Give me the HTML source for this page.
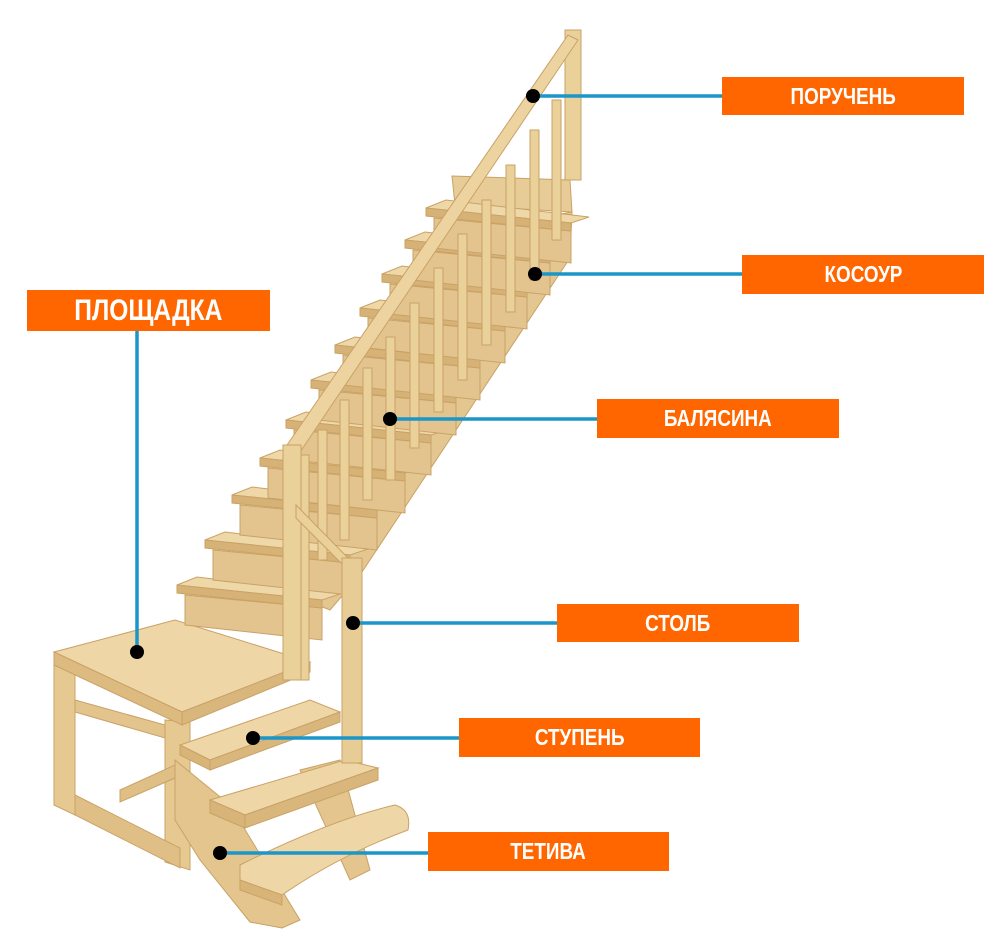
<!DOCTYPE html>
<html><head><meta charset="utf-8"><style>
html,body{margin:0;padding:0;background:#fff;width:994px;height:930px;overflow:hidden}
svg{position:absolute;left:0;top:0}
.lb{position:absolute;background:#ff6600;color:#fff;font-family:"Liberation Sans",sans-serif;font-weight:bold;font-size:23px;display:flex;align-items:center;justify-content:center}
.lb span{display:inline-block;transform:scaleX(0.82)}
</style></head><body>
<svg id="s" width="994" height="930" viewBox="0 0 994 930">
<g id="st" stroke="#c9a266" stroke-width="1" fill="#e9cf9c">
<polygon points="555,215 572,212 570,258 360,575 330,610 305,600 300,560" fill="#e4c690"/>
<polygon points="452,176 570,180 572,212 455,205" fill="#e8cc97"/>
<polygon points="54,662 75,662 75,815 54,805" fill="#e6c991"/>
<polygon points="165,720 190,722 190,870 165,862" fill="#e6c991"/>
<polygon points="75,795 180,848 180,868 75,815" fill="#dfbf86"/>
<polygon points="75,700 165,725 165,738 75,712" fill="#e2c48c"/>
<polygon points="120,790 175,765 175,778 120,802" fill="#dfbf86"/>
<polygon points="54,652 175,620 310,662 182,712" fill="#eed6a6"/>
<polygon points="54,652 182,712 182,725 54,665" fill="#ddbb80"/>
<polygon points="182,712 310,662 310,672 182,725" fill="#d9b67b"/>
<polygon points="175,760 230,805 300,920 282,928 250,922 200,860 175,820" fill="#e3c58d"/>
<polygon points="300,770 340,760 370,870 350,880" fill="#e3c58d"/>
<polygon points="180,745 310,700 340,712 210,760" fill="#eed6a6"/>
<polygon points="180,745 210,760 210,770 180,755" fill="#d8b479"/>
<polygon points="210,760 340,712 340,722 210,770" fill="#d9b67b"/>
<polygon points="210,800 345,760 378,768 245,815" fill="#eed6a6"/>
<polygon points="210,800 245,815 245,828 210,813" fill="#d8b479"/>
<polygon points="245,815 378,768 378,780 245,828" fill="#d9b67b"/>
<path d="M240,865 Q330,820 395,805 Q412,810 408,830 Q340,855 282,895 L240,880 Z" fill="#eed6a6"/>
<polygon points="240,880 282,895 282,905 240,890" fill="#d8b479"/>
</g>
<g id="treads" stroke="#c9a266" stroke-width="1"></g>
<g id="rail" stroke="#c9a266" stroke-width="1" fill="#ead099"></g>
<g stroke="#1b96c8" stroke-width="3.5" fill="none">
<line x1="533" y1="96" x2="722" y2="96"/>
<line x1="535" y1="274" x2="742" y2="274"/>
<line x1="390" y1="419" x2="597" y2="419"/>
<line x1="353" y1="623" x2="557" y2="623"/>
<line x1="253" y1="738" x2="459" y2="738"/>
<line x1="220" y1="853" x2="428" y2="853"/>
<line x1="137" y1="310" x2="137" y2="652"/>
</g>
<g fill="#000">
<circle cx="533" cy="96" r="7"/><circle cx="535" cy="274" r="7"/><circle cx="390" cy="419" r="7"/>
<circle cx="353" cy="623" r="7"/><circle cx="253" cy="738" r="7"/><circle cx="220" cy="853" r="7"/>
<circle cx="137" cy="652" r="7"/>
</g>
</svg>
<div class="lb" style="left:722px;top:77px;width:242px;height:38px"><span>ПОРУЧЕНЬ</span></div>
<div class="lb" style="left:742px;top:255px;width:242px;height:39px"><span>КОСОУР</span></div>
<div class="lb" style="left:597px;top:399px;width:242px;height:39px"><span>БАЛЯСИНА</span></div>
<div class="lb" style="left:557px;top:604px;width:242px;height:38px"><span>СТОЛБ</span></div>
<div class="lb" style="left:459px;top:718px;width:241px;height:39px"><span>СТУПЕНЬ</span></div>
<div class="lb" style="left:428px;top:832px;width:241px;height:39px"><span>ТЕТИВА</span></div>
<div class="lb" style="left:27px;top:290px;width:243px;height:41px;font-size:30px"><span>ПЛОЩАДКА</span></div>
<script>
var ns="http://www.w3.org/2000/svg";
function el(g,t,a){var e=document.createElementNS(ns,t);for(var k in a)e.setAttribute(k,a[k]);document.getElementById(g).appendChild(e);return e;}
var L=[[426,208],[405,240],[382,274],[360,308],[335,345],[311,380],[286,420],[260,458],[232,495],[205,540],[177,585]];
for(var i=L.length-1;i>=0;i--){var x=L[i][0],y=L[i][1],w=145,d=15;
 el("treads","polygon",{points:(x+8)+","+(y+10)+" "+(x+w)+","+(y+d+8)+" "+(x+w)+","+(y+d+40)+" "+(x+8)+","+(y+40),fill:"#e3c48e"});
 el("treads","polygon",{points:x+","+y+" "+(x+20)+","+(y-8)+" "+(x+w+18)+","+(y+d-6)+" "+(x+w)+","+(y+d),fill:"#efd8a8"});
 el("treads","polygon",{points:x+","+y+" "+(x+w)+","+(y+d)+" "+(x+w)+","+(y+d+8)+" "+x+","+(y+8),fill:"#d7b277"});
}
var B=[[300,455,680],[318,430,560],[340,400,540],[363,368,500],[386,337,480],[410,303,448],[434,268,412],[458,234,380],[482,200,345],[506,165,312],[530,130,280],[552,100,240]];
B.forEach(function(b){el("rail","rect",{x:b[0],y:b[1],width:9,height:b[2]-b[1]});});
el("rail","rect",{x:565,y:30,width:16,height:150});
el("rail","polygon",{points:"285,448 568,35 578,40 296,458",fill:"#ecd39f"});
el("rail","rect",{x:283,y:445,width:18,height:235});
el("rail","polygon",{points:"296,505 350,560 350,572 296,518"});
el("rail","rect",{x:342,y:558,width:20,height:205,fill:"#e8cc96"});
</script>
</body></html>
